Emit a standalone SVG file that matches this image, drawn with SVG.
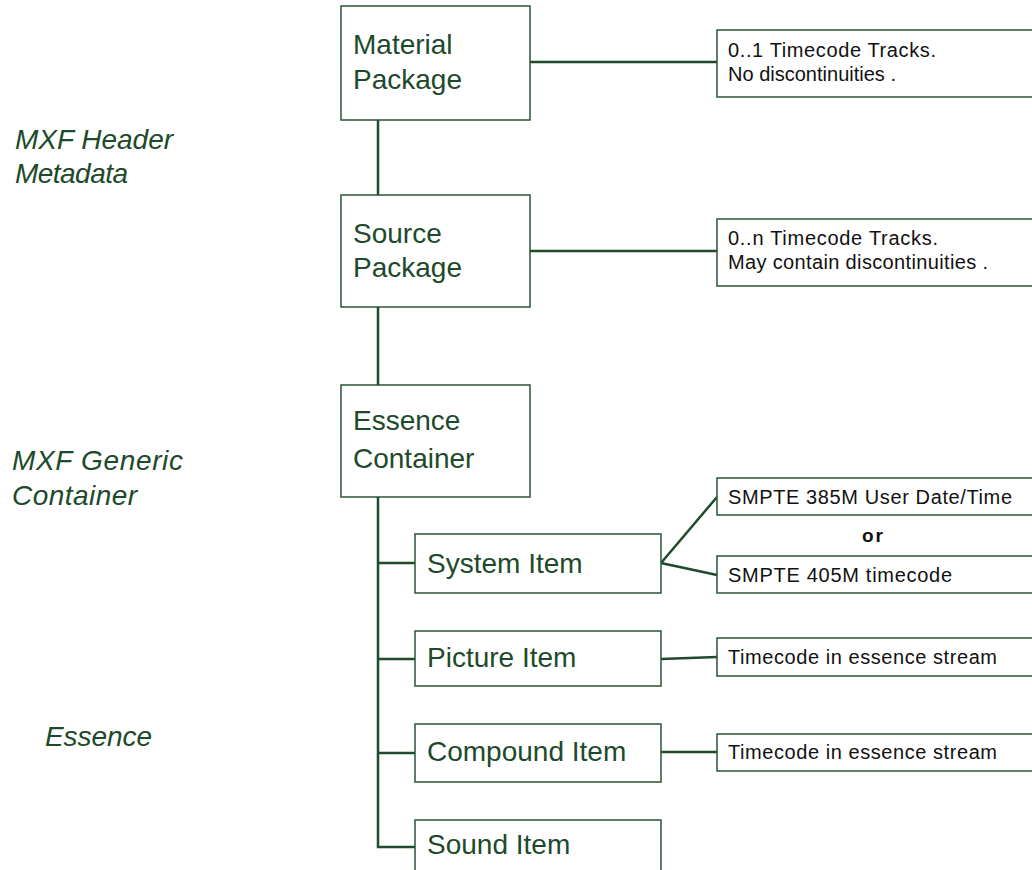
<svg xmlns="http://www.w3.org/2000/svg" width="1032" height="870" viewBox="0 0 1032 870">
<style>
.box{fill:#fff;stroke:#2a5536;stroke-width:1.5}
.big{font-family:"Liberation Sans",Arial,sans-serif;font-size:28px;fill:#1d4a2b}
.lab{font-family:"Liberation Sans",Arial,sans-serif;font-size:28px;font-style:italic;fill:#1d4a2b}
.sm{font-family:"Liberation Sans",Arial,sans-serif;font-size:20px;fill:#111}
.or{font-family:"Liberation Sans",Arial,sans-serif;font-size:19px;font-weight:bold;fill:#111}
.con{fill:none;stroke:#1f4a2c;stroke-width:2.5}
</style>
<rect width="1032" height="870" fill="#fff"/>
<g id="labels">
<text class="lab" x="15" y="149" textLength="158" lengthAdjust="spacing">MXF Header</text>
<text class="lab" x="15" y="183" textLength="113" lengthAdjust="spacing">Metadata</text>
<text class="lab" x="12" y="470" textLength="171" lengthAdjust="spacing">MXF Generic</text>
<text class="lab" x="12" y="505" textLength="125" lengthAdjust="spacing">Container</text>
<text class="lab" x="45" y="746" textLength="107" lengthAdjust="spacing">Essence</text>
</g>
<g id="connectors">
<path class="con" d="M378,120 V195"/>
<path class="con" d="M378,307 V385"/>
<path class="con" d="M378,497 V847 H415"/>
<path class="con" d="M378,563 H415"/>
<path class="con" d="M378,659 H415"/>
<path class="con" d="M378,753 H415"/>
<path class="con" d="M530,62 H717"/>
<path class="con" d="M530,251 H717"/>
<path class="con" d="M661,563 L717,497"/>
<path class="con" d="M661,563 L717,575"/>
<path class="con" d="M661,659 L717,657"/>
<path class="con" d="M661,752 H717"/>
</g>
<g id="material-package">
<rect class="box" x="341" y="6" width="189" height="114"/>
<text class="big" x="353" y="54">Material</text>
<text class="big" x="353" y="89">Package</text>
</g>
<g id="source-package">
<rect class="box" x="341" y="195" width="189" height="112"/>
<text class="big" x="353" y="243">Source</text>
<text class="big" x="353" y="277">Package</text>
</g>
<g id="essence-container">
<rect class="box" x="341" y="385" width="189" height="112"/>
<text class="big" x="353" y="430">Essence</text>
<text class="big" x="353" y="468">Container</text>
</g>
<g id="system-item">
<rect class="box" x="415" y="534" width="246" height="59"/>
<text class="big" x="427" y="573">System Item</text>
</g>
<g id="picture-item">
<rect class="box" x="415" y="631" width="246" height="55"/>
<text class="big" x="427" y="667">Picture Item</text>
</g>
<g id="compound-item">
<rect class="box" x="415" y="724" width="246" height="58"/>
<text class="big" x="427" y="761">Compound Item</text>
</g>
<g id="sound-item">
<rect class="box" x="415" y="820" width="246" height="70"/>
<text class="big" x="427" y="854">Sound Item</text>
</g>
<g id="note-material">
<rect class="box" x="717" y="30" width="330" height="67"/>
<text class="sm" x="728" y="57" textLength="208" lengthAdjust="spacing">0..1 Timecode Tracks.</text>
<text class="sm" x="728" y="81" textLength="168" lengthAdjust="spacing">No discontinuities .</text>
</g>
<g id="note-source">
<rect class="box" x="717" y="219" width="330" height="67"/>
<text class="sm" x="728" y="245" textLength="210" lengthAdjust="spacing">0..n Timecode Tracks.</text>
<text class="sm" x="728" y="269" textLength="260" lengthAdjust="spacing">May contain discontinuities .</text>
</g>
<g id="smpte-385">
<rect class="box" x="717" y="478" width="330" height="37"/>
<text class="sm" x="728" y="504" textLength="284" lengthAdjust="spacing">SMPTE 385M User Date/Time</text>
</g>
<text class="or" x="862" y="542" textLength="21" lengthAdjust="spacing">or</text>
<g id="smpte-405">
<rect class="box" x="717" y="556" width="330" height="37"/>
<text class="sm" x="728" y="582" textLength="224" lengthAdjust="spacing">SMPTE 405M timecode</text>
</g>
<g id="tc-picture">
<rect class="box" x="717" y="638" width="330" height="38"/>
<text class="sm" x="728" y="664" textLength="269" lengthAdjust="spacing">Timecode in essence stream</text>
</g>
<g id="tc-compound">
<rect class="box" x="717" y="734" width="330" height="37"/>
<text class="sm" x="728" y="759" textLength="269" lengthAdjust="spacing">Timecode in essence stream</text>
</g>
</svg>
